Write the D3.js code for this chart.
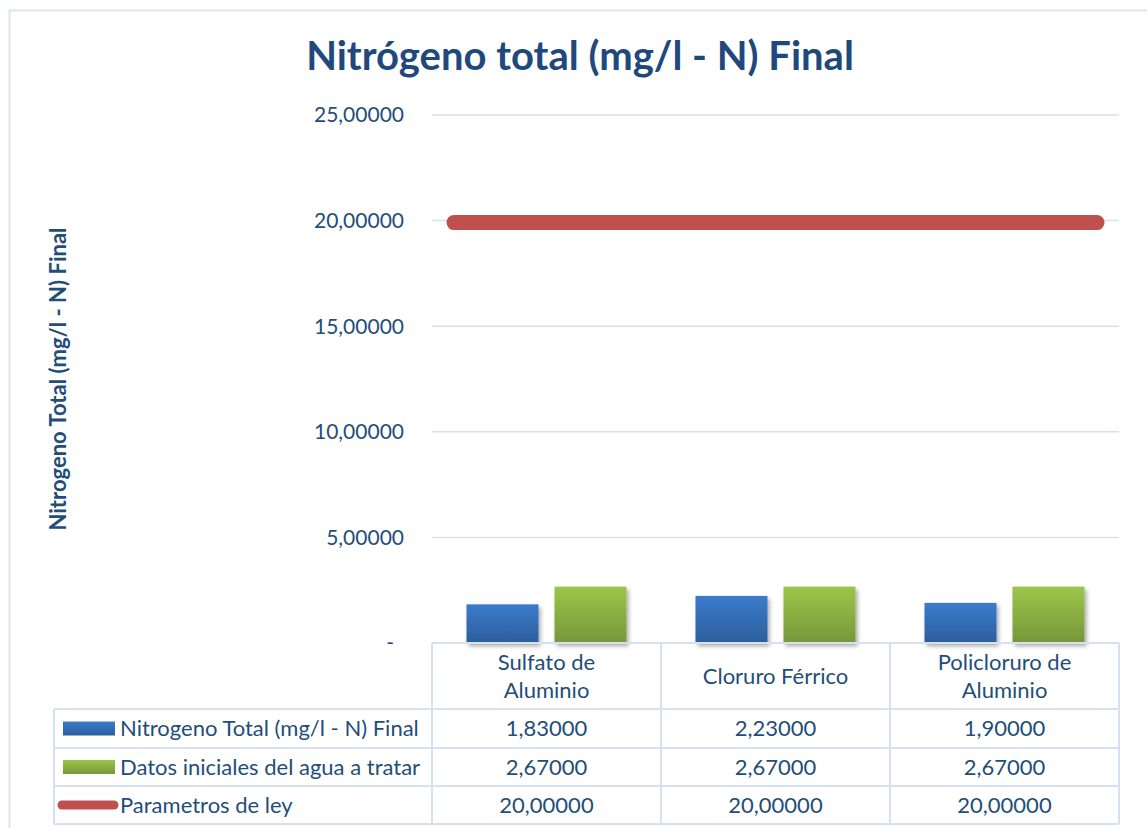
<!DOCTYPE html>
<html>
<head>
<meta charset="utf-8">
<script src="https://cdn.jsdelivr.net/npm/d3@7"></script>
<style>
  body { margin: 0; background: #fff; }
  text { font-family: Lato, "Open Sans", sans-serif; fill: #1f4e79; }
</style>
</head>
<body>
<svg id="chart" width="1147" height="828"></svg>
<script>
// data
var categories = [["Sulfato de", "Aluminio"], ["Cloruro Férrico"], ["Policloruro de", "Aluminio"]];
var series_names = ["Nitrogeno Total (mg/l - N) Final", "Datos iniciales del agua a tratar", "Parametros de ley"];
var nitrogeno_final = [1.83, 2.23, 1.90];
var datos_iniciales = [2.67, 2.67, 2.67];
var parametros_ley = [20, 20, 20];
var y_ticks = [0, 5, 10, 15, 20, 25];

var svg = d3.select('#chart');

var plot = {left: 432, right: 1119, top: 115, bottom: 643},
    table_left = 54,
    row_lines = [709, 748, 786, 824],
    grid_col = '#d5e1f2',
    table_fs = 22;

var cat_keys = categories.map(function(d) { return d.join(' '); });

var x = d3.scaleBand().domain(cat_keys).range([plot.left, plot.right]);
var x1 = d3.scaleBand().domain(series_names.slice(0, 2))
    .range([0, x.bandwidth()]).paddingInner(0.182).paddingOuter(0.392);
var y = d3.scaleLinear().domain([0, 25]).range([plot.bottom, plot.top]);

var loc = d3.formatLocale({decimal: ',', thousands: '.', grouping: [3], currency: ['', '']});
var fmt = loc.format('.5f');

// defs: gradients + shadow
var defs = svg.append('defs');
function grad(id, c1, c2) {
  var g = defs.append('linearGradient').attr('id', id).attr('x1', 0).attr('x2', 0).attr('y1', 0).attr('y2', 1);
  g.append('stop').attr('offset', '0%').attr('stop-color', c1);
  g.append('stop').attr('offset', '100%').attr('stop-color', c2);
}
grad('g-blue', '#3b7bcb', '#2c5e9c');
grad('g-green', '#9cc64a', '#77973a');
var f = defs.append('filter').attr('id', 'shadow').attr('x', '-20%').attr('y', '-20%').attr('width', '150%').attr('height', '150%');
f.append('feDropShadow').attr('dx', 2).attr('dy', 3).attr('stdDeviation', 2).attr('flood-color', '#000').attr('flood-opacity', 0.35);

// outer chart border
svg.append('path')
  .attr('d', 'M9.5,828 L9.5,10.5 L1147,10.5')
  .attr('fill', 'none').attr('stroke', '#dbe5f4').attr('stroke-width', 2);

// title
svg.append('text')
  .attr('x', 580).attr('y', 70)
  .attr('text-anchor', 'middle')
  .attr('font-size', 40).attr('font-weight', 'bold')
  .style('fill', '#1f497d')
  .text('Nitrógeno total (mg/l - N) Final');

// y axis title
svg.append('text')
  .attr('transform', 'translate(66,' + 379 + ') rotate(-90)')
  .attr('text-anchor', 'middle')
  .attr('font-size', 22).attr('font-weight', 'bold')
  .text('Nitrogeno Total (mg/l - N) Final');

// gridlines
svg.append('g').selectAll('line')
  .data(y_ticks.filter(function(d) { return d > 0; }))
  .enter().append('line')
  .attr('x1', plot.left).attr('x2', plot.right)
  .attr('y1', function(d) { return y(d); }).attr('y2', function(d) { return y(d); })
  .attr('stroke', grid_col).attr('stroke-width', 1.5);

// y tick labels
svg.append('g').selectAll('text')
  .data(y_ticks)
  .enter().append('text')
  .attr('x', function(d) { return d == 0 ? 394 : 404; })
  .attr('y', function(d) { return y(d); })
  .attr('dy', '0.35em')
  .attr('text-anchor', 'end')
  .attr('font-size', 21)
  .text(function(d) { return d == 0 ? '-' : fmt(d); });

// bars
var bar_series = [
  {name: series_names[0], values: nitrogeno_final, fill: 'url(#g-blue)'},
  {name: series_names[1], values: datos_iniciales, fill: 'url(#g-green)'}
];
bar_series.forEach(function(s) {
  svg.append('g').selectAll('rect')
    .data(s.values)
    .enter().append('rect')
    .attr('x', function(d, i) { return x(cat_keys[i]) + x1(s.name); })
    .attr('y', function(d) { return y(d); })
    .attr('width', x1.bandwidth())
    .attr('height', function(d) { return y(0) - y(d); })
    .attr('fill', s.fill)
    .attr('filter', 'url(#shadow)');
});

// red line (parametros de ley)
var line_pts = parametros_ley.map(function(d, i) { return [x(cat_keys[i]) + x.bandwidth()/2, y(d)]; });
line_pts.unshift([plot.left + 22, y(parametros_ley[0])]);
line_pts.push([plot.right - 22, y(parametros_ley[parametros_ley.length-1])]);
svg.append('path')
  .attr('d', d3.line()(line_pts))
  .attr('fill', 'none').attr('stroke', '#c0504d')
  .attr('stroke-width', 15).attr('stroke-linecap', 'round')
  .attr('transform', 'translate(0,2)');

// data table
var tbl = svg.append('g').attr('stroke', grid_col).attr('stroke-width', 2).attr('fill', 'none');
// header row border
tbl.append('line').attr('x1', plot.left).attr('x2', plot.right).attr('y1', plot.bottom).attr('y2', plot.bottom);
row_lines.forEach(function(ry) {
  tbl.append('line').attr('x1', table_left).attr('x2', plot.right).attr('y1', ry).attr('y2', ry);
});
tbl.append('line').attr('x1', table_left).attr('x2', table_left).attr('y1', row_lines[0]).attr('y2', row_lines[3]);
cat_keys.concat(['end']).forEach(function(k) {
  var cx = k == 'end' ? plot.right : x(k);
  tbl.append('line').attr('x1', cx).attr('x2', cx).attr('y1', plot.bottom).attr('y2', row_lines[3]);
});

// category labels
categories.forEach(function(lines, i) {
  var cx = x(cat_keys[i]) + x.bandwidth()/2;
  var mid = (plot.bottom + row_lines[0]) / 2;
  var t = svg.append('text').attr('text-anchor', 'middle').attr('font-size', table_fs);
  lines.forEach(function(l, j) {
    t.append('tspan').attr('x', cx)
      .attr('y', mid + (j - (lines.length - 1)/2) * 28)
      .attr('dy', '0.35em').text(l);
  });
});

// table rows: legend keys + values
var rows = [
  {name: series_names[0], values: nitrogeno_final, key: 'rect', fill: 'url(#g-blue)'},
  {name: series_names[1], values: datos_iniciales, key: 'rect', fill: 'url(#g-green)'},
  {name: series_names[2], values: parametros_ley, key: 'line', fill: '#c0504d'}
];
rows.forEach(function(r, ri) {
  var cy = (row_lines[ri] + row_lines[ri+1]) / 2;
  if (r.key == 'rect') {
    svg.append('rect').attr('x', 63).attr('y', cy - 7).attr('width', 52).attr('height', 14).attr('fill', r.fill);
  } else {
    svg.append('line').attr('x1', 62).attr('x2', 114).attr('y1', cy).attr('y2', cy)
      .attr('stroke', r.fill).attr('stroke-width', 9).attr('stroke-linecap', 'round');
  }
  svg.append('text').attr('x', 120).attr('y', cy).attr('dy', '0.35em')
    .attr('font-size', table_fs).text(r.name);
  svg.append('g').selectAll('text')
    .data(r.values)
    .enter().append('text')
    .attr('x', function(d, i) { return x(cat_keys[i]) + x.bandwidth()/2; })
    .attr('y', cy).attr('dy', '0.35em')
    .attr('text-anchor', 'middle').attr('font-size', table_fs)
    .text(function(d) { return fmt(d); });
});
</script>
</body>
</html>
